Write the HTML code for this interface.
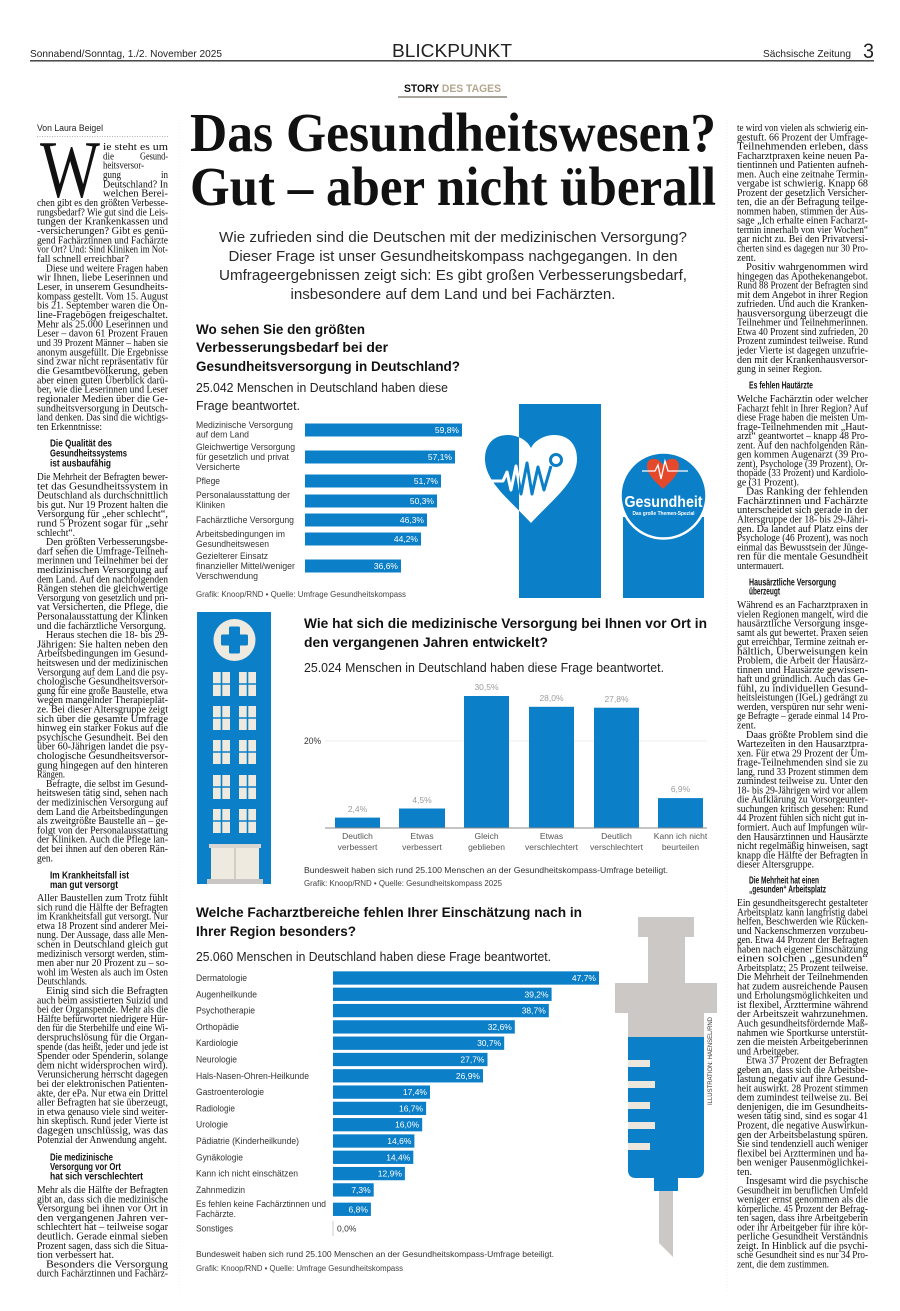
<!DOCTYPE html>
<html><head><meta charset="utf-8"><style>
html,body{margin:0;padding:0;background:#fff;}
svg{display:block;}
</style></head><body>
<svg xmlns="http://www.w3.org/2000/svg" width="900" height="1311" viewBox="0 0 900 1311">
<defs>
<clipPath id="cl"><rect x="470" y="420" width="49" height="120"/></clipPath>
<clipPath id="cr"><rect x="519" y="420" width="70" height="120"/></clipPath>
</defs>
<rect width="900" height="1311" fill="#fff"/>

<!-- HEADER -->
<g font-family="Liberation Sans, sans-serif" fill="#222">
<text x="30" y="57" font-size="10.5" textLength="192" lengthAdjust="spacingAndGlyphs">Sonnabend/Sonntag, 1./2. November 2025</text>
<text x="392" y="57" font-size="18" textLength="120" lengthAdjust="spacingAndGlyphs">BLICKPUNKT</text>
<text x="763" y="57" font-size="10.5" textLength="88" lengthAdjust="spacingAndGlyphs">Sächsische Zeitung</text>
<text x="863" y="58" font-size="21" textLength="11" lengthAdjust="spacingAndGlyphs">3</text>
</g>
<line x1="30" y1="60.8" x2="874" y2="60.8" stroke="#333" stroke-width="1.3"/>

<text x="404" y="92" font-family="Liberation Sans, sans-serif" font-size="11" font-weight="bold" textLength="97" lengthAdjust="spacingAndGlyphs"><tspan fill="#111">STORY </tspan><tspan fill="#b3a68e">DES TAGES</tspan></text>
<line x1="398" y1="97" x2="507" y2="97" stroke="#a9a49b" stroke-width="2"/>

<!-- HEADLINE -->
<g font-family="Liberation Serif, serif" font-weight="bold" fill="#111" font-size="55">
<text x="190" y="151" textLength="526" lengthAdjust="spacingAndGlyphs">Das Gesundheitswesen?</text>
<text x="190" y="205" textLength="526" lengthAdjust="spacingAndGlyphs">Gut – aber nicht überall</text>
</g>
<g font-family="Liberation Sans, sans-serif" fill="#2a2a2a" font-size="14.5" text-anchor="middle">
<text x="453" y="242" textLength="468" lengthAdjust="spacingAndGlyphs">Wie zufrieden sind die Deutschen mit der medizinischen Versorgung?</text>
<text x="453" y="261" textLength="449" lengthAdjust="spacingAndGlyphs">Dieser Frage ist unser Gesundheitskompass nachgegangen. In den</text>
<text x="453" y="280" textLength="468" lengthAdjust="spacingAndGlyphs">Umfrageergebnissen zeigt sich: Es gibt großen Verbesserungsbedarf,</text>
<text x="453" y="299" textLength="325" lengthAdjust="spacingAndGlyphs">insbesondere auf dem Land und bei Fachärzten.</text>
</g>

<!-- column separators -->
<line x1="179" y1="120" x2="179" y2="1292" stroke="#ececec" stroke-width="0.7" stroke-dasharray="1 2"/>
<line x1="727" y1="120" x2="727" y2="1292" stroke="#ececec" stroke-width="0.7" stroke-dasharray="1 2"/>

<!-- LEFT COLUMN -->
<text x="37" y="131" font-family="Liberation Sans, sans-serif" font-size="9" fill="#222" textLength="66" lengthAdjust="spacingAndGlyphs">Von Laura Beigel</text>
<line x1="37" y1="136.5" x2="168" y2="136.5" stroke="#999" stroke-width="0.8" stroke-dasharray="1 1.5"/>
<text x="40" y="197" font-family="Liberation Serif, serif" font-size="82" fill="#111" textLength="60" lengthAdjust="spacingAndGlyphs">W</text>

<g font-family="Liberation Sans, sans-serif" font-weight="bold" font-size="10" fill="#111">
<text x="50" y="446.5" textLength="62" lengthAdjust="spacingAndGlyphs">Die Qualität des</text>
<text x="50" y="456.5" textLength="77" lengthAdjust="spacingAndGlyphs">Gesundheitssystems</text>
<text x="50" y="466.5" textLength="61" lengthAdjust="spacingAndGlyphs">ist ausbaufähig</text>
<text x="50" y="878.5" textLength="79" lengthAdjust="spacingAndGlyphs">Im Krankheitsfall ist</text>
<text x="50" y="888" textLength="68" lengthAdjust="spacingAndGlyphs">man gut versorgt</text>
<text x="50" y="1160.5" textLength="63" lengthAdjust="spacingAndGlyphs">Die medizinische</text>
<text x="50" y="1170" textLength="71" lengthAdjust="spacingAndGlyphs">Versorgung vor Ort</text>
<text x="50" y="1179.5" textLength="93" lengthAdjust="spacingAndGlyphs">hat sich verschlechtert</text>
<text x="749" y="388.5" textLength="64" lengthAdjust="spacingAndGlyphs">Es fehlen Hautärzte</text>
<text x="749" y="585.5" textLength="87" lengthAdjust="spacingAndGlyphs">Hausärztliche Versorgung</text>
<text x="749" y="594.5" textLength="31" lengthAdjust="spacingAndGlyphs">überzeugt</text>
<text x="749" y="883.5" textLength="70" lengthAdjust="spacingAndGlyphs">Die Mehrheit hat einen</text>
<text x="749" y="892.5" textLength="77" lengthAdjust="spacingAndGlyphs">„gesunden“ Arbeitsplatz</text>
</g>

<g font-family="Liberation Serif, serif" font-size="10.4" fill="#111">
<text x="103" y="150" textLength="65" lengthAdjust="spacingAndGlyphs">ie steht es um</text>
<text x="103" y="159.3" textLength="11" lengthAdjust="spacingAndGlyphs">die</text>
<text x="168" y="159.3" text-anchor="end" textLength="28" lengthAdjust="spacingAndGlyphs">Gesund-</text>
<text x="103" y="168.7" textLength="41" lengthAdjust="spacingAndGlyphs">heitsversor-</text>
<text x="103" y="178" textLength="18" lengthAdjust="spacingAndGlyphs">gung</text>
<text x="168" y="178" text-anchor="end" textLength="7" lengthAdjust="spacingAndGlyphs">in</text>
<text x="103" y="187.3" textLength="65" lengthAdjust="spacingAndGlyphs">Deutschland? In</text>
<text x="103" y="196.7" textLength="65" lengthAdjust="spacingAndGlyphs">welchen Berei-</text>
<text x="37" y="206" textLength="131" lengthAdjust="spacingAndGlyphs">chen gibt es den größten Verbesse-</text>
<text x="37" y="215.3" textLength="131" lengthAdjust="spacingAndGlyphs">rungsbedarf? Wie gut sind die Leis-</text>
<text x="37" y="224.6" textLength="131" lengthAdjust="spacingAndGlyphs">tungen der Krankenkassen und</text>
<text x="37" y="234" textLength="131" lengthAdjust="spacingAndGlyphs">-versicherungen? Gibt es genü-</text>
<text x="37" y="243.3" textLength="131" lengthAdjust="spacingAndGlyphs">gend Fachärztinnen und Fachärzte</text>
<text x="37" y="252.6" textLength="131" lengthAdjust="spacingAndGlyphs">vor Ort? Und: Sind Kliniken im Not-</text>
<text x="37" y="262" textLength="92" lengthAdjust="spacingAndGlyphs">fall schnell erreichbar?</text>
<text x="46" y="271.3" textLength="122" lengthAdjust="spacingAndGlyphs">Diese und weitere Fragen haben</text>
<text x="37" y="280.6" textLength="131" lengthAdjust="spacingAndGlyphs">wir Ihnen, liebe Leserinnen und</text>
<text x="37" y="290" textLength="131" lengthAdjust="spacingAndGlyphs">Leser, in unserem Gesundheits-</text>
<text x="37" y="299.3" textLength="131" lengthAdjust="spacingAndGlyphs">kompass gestellt. Vom 15. August</text>
<text x="37" y="308.6" textLength="131" lengthAdjust="spacingAndGlyphs">bis 21. September waren die On-</text>
<text x="37" y="318" textLength="131" lengthAdjust="spacingAndGlyphs">line-Fragebögen    freigeschaltet.</text>
<text x="37" y="327.3" textLength="131" lengthAdjust="spacingAndGlyphs">Mehr als 25.000 Leserinnen und</text>
<text x="37" y="336.6" textLength="131" lengthAdjust="spacingAndGlyphs">Leser – davon 61 Prozent Frauen</text>
<text x="37" y="346" textLength="131" lengthAdjust="spacingAndGlyphs">und 39 Prozent Männer – haben sie</text>
<text x="37" y="355.3" textLength="131" lengthAdjust="spacingAndGlyphs">anonym ausgefüllt. Die Ergebnisse</text>
<text x="37" y="364.6" textLength="131" lengthAdjust="spacingAndGlyphs">sind zwar nicht repräsentativ für</text>
<text x="37" y="374" textLength="131" lengthAdjust="spacingAndGlyphs">die Gesamtbevölkerung,  geben</text>
<text x="37" y="383.3" textLength="131" lengthAdjust="spacingAndGlyphs">aber einen guten Überblick darü-</text>
<text x="37" y="392.6" textLength="131" lengthAdjust="spacingAndGlyphs">ber, wie die Leserinnen und Leser</text>
<text x="37" y="402" textLength="131" lengthAdjust="spacingAndGlyphs">regionaler Medien über die Ge-</text>
<text x="37" y="411.3" textLength="131" lengthAdjust="spacingAndGlyphs">sundheitsversorgung in Deutsch-</text>
<text x="37" y="420.6" textLength="131" lengthAdjust="spacingAndGlyphs">land denken. Das sind die wichtigs-</text>
<text x="37" y="430" textLength="65" lengthAdjust="spacingAndGlyphs">ten Erkenntnisse:</text>

<text x="37" y="480" textLength="131" lengthAdjust="spacingAndGlyphs">Die Mehrheit der Befragten bewer-</text>
<text x="37" y="489.3" textLength="131" lengthAdjust="spacingAndGlyphs">tet  das  Gesundheitssystem  in</text>
<text x="37" y="498.6" textLength="131" lengthAdjust="spacingAndGlyphs">Deutschland als durchschnittlich</text>
<text x="37" y="507.9" textLength="131" lengthAdjust="spacingAndGlyphs">bis gut. Nur 19 Prozent halten die</text>
<text x="37" y="517.2" textLength="131" lengthAdjust="spacingAndGlyphs">Versorgung für „eher schlecht“,</text>
<text x="37" y="526.5" textLength="131" lengthAdjust="spacingAndGlyphs">rund 5 Prozent sogar für „sehr</text>
<text x="37" y="535.8" textLength="38" lengthAdjust="spacingAndGlyphs">schlecht“.</text>
<text x="46" y="545.1" textLength="122" lengthAdjust="spacingAndGlyphs">Den größten Verbesserungsbe-</text>
<text x="37" y="554.4" textLength="131" lengthAdjust="spacingAndGlyphs">darf sehen die Umfrage-Teilneh-</text>
<text x="37" y="563.7" textLength="131" lengthAdjust="spacingAndGlyphs">merinnen und Teilnehmer bei der</text>
<text x="37" y="573" textLength="131" lengthAdjust="spacingAndGlyphs">medizinischen   Versorgung   auf</text>
<text x="37" y="582.3" textLength="131" lengthAdjust="spacingAndGlyphs">dem Land. Auf den nachfolgenden</text>
<text x="37" y="591.6" textLength="131" lengthAdjust="spacingAndGlyphs">Rängen stehen die gleichwertige</text>
<text x="37" y="600.9" textLength="131" lengthAdjust="spacingAndGlyphs">Versorgung von gesetzlich und pri-</text>
<text x="37" y="610.2" textLength="131" lengthAdjust="spacingAndGlyphs">vat Versicherten, die Pflege, die</text>
<text x="37" y="619.5" textLength="131" lengthAdjust="spacingAndGlyphs">Personalausstattung der Klinken</text>
<text x="37" y="628.8" textLength="129" lengthAdjust="spacingAndGlyphs">und die fachärztliche Versorgung.</text>
<text x="46" y="638.1" textLength="122" lengthAdjust="spacingAndGlyphs">Heraus stechen die 18- bis 29-</text>
<text x="37" y="647.4" textLength="131" lengthAdjust="spacingAndGlyphs">Jährigen: Sie halten neben den</text>
<text x="37" y="656.7" textLength="131" lengthAdjust="spacingAndGlyphs">Arbeitsbedingungen im Gesund-</text>
<text x="37" y="666" textLength="131" lengthAdjust="spacingAndGlyphs">heitswesen und der medizinischen</text>
<text x="37" y="675.3" textLength="131" lengthAdjust="spacingAndGlyphs">Versorgung auf dem Land die psy-</text>
<text x="37" y="684.6" textLength="131" lengthAdjust="spacingAndGlyphs">chologische   Gesundheitsversor-</text>
<text x="37" y="693.9" textLength="131" lengthAdjust="spacingAndGlyphs">gung für eine große Baustelle, etwa</text>
<text x="37" y="703.2" textLength="131" lengthAdjust="spacingAndGlyphs">wegen mangelnder Therapieplät-</text>
<text x="37" y="712.5" textLength="131" lengthAdjust="spacingAndGlyphs">ze. Bei dieser Altersgruppe zeigt</text>
<text x="37" y="721.8" textLength="131" lengthAdjust="spacingAndGlyphs">sich über die gesamte Umfrage</text>
<text x="37" y="731.1" textLength="131" lengthAdjust="spacingAndGlyphs">hinweg ein starker Fokus auf die</text>
<text x="37" y="740.4" textLength="131" lengthAdjust="spacingAndGlyphs">psychische Gesundheit. Bei den</text>
<text x="37" y="749.7" textLength="131" lengthAdjust="spacingAndGlyphs">über 60-Jährigen landet die psy-</text>
<text x="37" y="759" textLength="131" lengthAdjust="spacingAndGlyphs">chologische   Gesundheitsversor-</text>
<text x="37" y="768.3" textLength="131" lengthAdjust="spacingAndGlyphs">gung hingegen auf den hinteren</text>
<text x="37" y="777.6" textLength="28" lengthAdjust="spacingAndGlyphs">Rängen.</text>
<text x="46" y="786.9" textLength="122" lengthAdjust="spacingAndGlyphs">Befragte, die selbst im Gesund-</text>
<text x="37" y="796.2" textLength="131" lengthAdjust="spacingAndGlyphs">heitswesen tätig sind, sehen nach</text>
<text x="37" y="805.5" textLength="131" lengthAdjust="spacingAndGlyphs">der medizinischen Versorgung auf</text>
<text x="37" y="814.8" textLength="131" lengthAdjust="spacingAndGlyphs">dem Land die Arbeitsbedingungen</text>
<text x="37" y="824.1" textLength="131" lengthAdjust="spacingAndGlyphs">als zweitgrößte Baustelle an – ge-</text>
<text x="37" y="833.4" textLength="131" lengthAdjust="spacingAndGlyphs">folgt von der Personalausstattung</text>
<text x="37" y="842.7" textLength="131" lengthAdjust="spacingAndGlyphs">der Kliniken. Auch die Pflege lan-</text>
<text x="37" y="852" textLength="131" lengthAdjust="spacingAndGlyphs">det bei ihnen auf den oberen Rän-</text>
<text x="37" y="861.3" textLength="16" lengthAdjust="spacingAndGlyphs">gen.</text>

<text x="37" y="901" textLength="131" lengthAdjust="spacingAndGlyphs">Aller Baustellen zum Trotz fühlt</text>
<text x="37" y="910.3" textLength="131" lengthAdjust="spacingAndGlyphs">sich rund die Hälfte der Befragten</text>
<text x="37" y="919.6" textLength="131" lengthAdjust="spacingAndGlyphs">im Krankheitsfall gut versorgt. Nur</text>
<text x="37" y="928.9" textLength="131" lengthAdjust="spacingAndGlyphs">etwa 18 Prozent sind anderer Mei-</text>
<text x="37" y="938.2" textLength="131" lengthAdjust="spacingAndGlyphs">nung. Der Aussage, dass alle Men-</text>
<text x="37" y="947.5" textLength="131" lengthAdjust="spacingAndGlyphs">schen in Deutschland gleich gut</text>
<text x="37" y="956.8" textLength="131" lengthAdjust="spacingAndGlyphs">medizinisch versorgt werden, stim-</text>
<text x="37" y="966.1" textLength="131" lengthAdjust="spacingAndGlyphs">men aber nur 20 Prozent zu – so-</text>
<text x="37" y="975.4" textLength="131" lengthAdjust="spacingAndGlyphs">wohl im Westen als auch im Osten</text>
<text x="37" y="984.7" textLength="50" lengthAdjust="spacingAndGlyphs">Deutschlands.</text>
<text x="46" y="994" textLength="122" lengthAdjust="spacingAndGlyphs">Einig sind sich die Befragten</text>
<text x="37" y="1003.3" textLength="131" lengthAdjust="spacingAndGlyphs">auch beim assistierten Suizid und</text>
<text x="37" y="1012.6" textLength="131" lengthAdjust="spacingAndGlyphs">bei der Organspende. Mehr als die</text>
<text x="37" y="1021.9" textLength="131" lengthAdjust="spacingAndGlyphs">Hälfte befürwortet niedrigere Hür-</text>
<text x="37" y="1031.2" textLength="131" lengthAdjust="spacingAndGlyphs">den für die Sterbehilfe und eine Wi-</text>
<text x="37" y="1040.5" textLength="131" lengthAdjust="spacingAndGlyphs">derspruchslösung für die Organ-</text>
<text x="37" y="1049.8" textLength="131" lengthAdjust="spacingAndGlyphs">spende (das heißt, jeder und jede ist</text>
<text x="37" y="1059.1" textLength="131" lengthAdjust="spacingAndGlyphs">Spender oder Spenderin, solange</text>
<text x="37" y="1068.4" textLength="131" lengthAdjust="spacingAndGlyphs">dem  nicht  widersprochen  wird).</text>
<text x="37" y="1077.7" textLength="131" lengthAdjust="spacingAndGlyphs">Verunsicherung herrscht dagegen</text>
<text x="37" y="1087" textLength="131" lengthAdjust="spacingAndGlyphs">bei der elektronischen Patienten-</text>
<text x="37" y="1096.3" textLength="131" lengthAdjust="spacingAndGlyphs">akte, der ePa. Nur etwa ein Drittel</text>
<text x="37" y="1105.6" textLength="131" lengthAdjust="spacingAndGlyphs">aller Befragten hat sie überzeugt,</text>
<text x="37" y="1114.9" textLength="131" lengthAdjust="spacingAndGlyphs">in etwa genauso viele sind weiter-</text>
<text x="37" y="1124.2" textLength="131" lengthAdjust="spacingAndGlyphs">hin skeptisch. Rund jeder Vierte ist</text>
<text x="37" y="1133.5" textLength="131" lengthAdjust="spacingAndGlyphs">dagegen   unschlüssig,   was   das</text>
<text x="37" y="1142.8" textLength="130" lengthAdjust="spacingAndGlyphs">Potenzial der Anwendung angeht.</text>

<text x="37" y="1193" textLength="131" lengthAdjust="spacingAndGlyphs">Mehr als die Hälfte der Befragten</text>
<text x="37" y="1202.3" textLength="131" lengthAdjust="spacingAndGlyphs">gibt an, dass sich die medizinische</text>
<text x="37" y="1211.6" textLength="131" lengthAdjust="spacingAndGlyphs">Versorgung bei ihnen vor Ort in</text>
<text x="37" y="1220.9" textLength="131" lengthAdjust="spacingAndGlyphs">den   vergangenen   Jahren   ver-</text>
<text x="37" y="1230.2" textLength="131" lengthAdjust="spacingAndGlyphs">schlechtert hat – teilweise sogar</text>
<text x="37" y="1239.5" textLength="131" lengthAdjust="spacingAndGlyphs">deutlich. Gerade einmal sieben</text>
<text x="37" y="1248.8" textLength="131" lengthAdjust="spacingAndGlyphs">Prozent sagen, dass sich die Situa-</text>
<text x="37" y="1258.1" textLength="77" lengthAdjust="spacingAndGlyphs">tion verbessert hat.</text>
<text x="46" y="1267.4" textLength="122" lengthAdjust="spacingAndGlyphs">Besonders    die    Versorgung</text>
<text x="37" y="1276.7" textLength="131" lengthAdjust="spacingAndGlyphs">durch Fachärztinnen und Fachärz-</text>

<!-- RIGHT COLUMN -->
<text x="737" y="131" textLength="131" lengthAdjust="spacingAndGlyphs">te wird von vielen als schwierig ein-</text>
<text x="737" y="140.3" textLength="131" lengthAdjust="spacingAndGlyphs">gestuft. 66 Prozent der Umfrage-</text>
<text x="737" y="149.5" textLength="131" lengthAdjust="spacingAndGlyphs">Teilnehmenden    erleben,    dass</text>
<text x="737" y="158.8" textLength="131" lengthAdjust="spacingAndGlyphs">Facharztpraxen keine neuen Pa-</text>
<text x="737" y="168.1" textLength="131" lengthAdjust="spacingAndGlyphs">tientinnen und Patienten aufneh-</text>
<text x="737" y="177.4" textLength="131" lengthAdjust="spacingAndGlyphs">men. Auch eine zeitnahe Termin-</text>
<text x="737" y="186.6" textLength="131" lengthAdjust="spacingAndGlyphs">vergabe ist schwierig. Knapp 68</text>
<text x="737" y="195.9" textLength="131" lengthAdjust="spacingAndGlyphs">Prozent der gesetzlich Versicher-</text>
<text x="737" y="205.2" textLength="131" lengthAdjust="spacingAndGlyphs">ten, die an der Befragung teilge-</text>
<text x="737" y="214.4" textLength="131" lengthAdjust="spacingAndGlyphs">nommen haben, stimmen der Aus-</text>
<text x="737" y="223.7" textLength="131" lengthAdjust="spacingAndGlyphs">sage „Ich erhalte einen Facharzt-</text>
<text x="737" y="233" textLength="131" lengthAdjust="spacingAndGlyphs">termin innerhalb von vier Wochen“</text>
<text x="737" y="242.2" textLength="131" lengthAdjust="spacingAndGlyphs">gar nicht zu. Bei den Privatversi-</text>
<text x="737" y="251.5" textLength="131" lengthAdjust="spacingAndGlyphs">cherten sind es dagegen nur 30 Pro-</text>
<text x="737" y="260.8" textLength="19" lengthAdjust="spacingAndGlyphs">zent.</text>
<text x="746" y="270.1" textLength="122" lengthAdjust="spacingAndGlyphs">Positiv   wahrgenommen   wird</text>
<text x="737" y="279.3" textLength="131" lengthAdjust="spacingAndGlyphs">hingegen das Apothekenangebot.</text>
<text x="737" y="288.6" textLength="131" lengthAdjust="spacingAndGlyphs">Rund 88 Prozent der Befragten sind</text>
<text x="737" y="297.9" textLength="131" lengthAdjust="spacingAndGlyphs">mit dem Angebot in ihrer Region</text>
<text x="737" y="307.1" textLength="131" lengthAdjust="spacingAndGlyphs">zufrieden. Und auch die Kranken-</text>
<text x="737" y="316.4" textLength="131" lengthAdjust="spacingAndGlyphs">hausversorgung   überzeugt   die</text>
<text x="737" y="325.7" textLength="131" lengthAdjust="spacingAndGlyphs">Teilnehmer und Teilnehmerinnen.</text>
<text x="737" y="334.9" textLength="131" lengthAdjust="spacingAndGlyphs">Etwa 40 Prozent sind zufrieden, 20</text>
<text x="737" y="344.2" textLength="131" lengthAdjust="spacingAndGlyphs">Prozent zumindest teilweise. Rund</text>
<text x="737" y="353.5" textLength="131" lengthAdjust="spacingAndGlyphs">jeder Vierte ist dagegen unzufrie-</text>
<text x="737" y="362.8" textLength="131" lengthAdjust="spacingAndGlyphs">den mit der Krankenhausversor-</text>
<text x="737" y="372" textLength="85" lengthAdjust="spacingAndGlyphs">gung in seiner Region.</text>

<text x="737" y="402" textLength="131" lengthAdjust="spacingAndGlyphs">Welche Fachärztin oder welcher</text>
<text x="737" y="411.3" textLength="131" lengthAdjust="spacingAndGlyphs">Facharzt fehlt in Ihrer Region? Auf</text>
<text x="737" y="420.5" textLength="131" lengthAdjust="spacingAndGlyphs">diese Frage haben die meisten Um-</text>
<text x="737" y="429.8" textLength="131" lengthAdjust="spacingAndGlyphs">frage-Teilnehmenden mit „Haut-</text>
<text x="737" y="439.1" textLength="131" lengthAdjust="spacingAndGlyphs">arzt“ geantwortet – knapp 48 Pro-</text>
<text x="737" y="448.4" textLength="131" lengthAdjust="spacingAndGlyphs">zent. Auf den nachfolgenden Rän-</text>
<text x="737" y="457.6" textLength="131" lengthAdjust="spacingAndGlyphs">gen kommen Augenarzt (39 Pro-</text>
<text x="737" y="466.9" textLength="131" lengthAdjust="spacingAndGlyphs">zent), Psychologe (39 Prozent), Or-</text>
<text x="737" y="476.2" textLength="131" lengthAdjust="spacingAndGlyphs">thopäde (33 Prozent) und Kardiolo-</text>
<text x="737" y="485.4" textLength="62" lengthAdjust="spacingAndGlyphs">ge (31 Prozent).</text>
<text x="746" y="494.7" textLength="122" lengthAdjust="spacingAndGlyphs">Das  Ranking  der  fehlenden</text>
<text x="737" y="504" textLength="131" lengthAdjust="spacingAndGlyphs">Fachärztinnen    und    Fachärzte</text>
<text x="737" y="513.2" textLength="131" lengthAdjust="spacingAndGlyphs">unterscheidet sich gerade in der</text>
<text x="737" y="522.5" textLength="131" lengthAdjust="spacingAndGlyphs">Altersgruppe der 18- bis 29-Jähri-</text>
<text x="737" y="531.8" textLength="131" lengthAdjust="spacingAndGlyphs">gen. Da landet auf Platz eins der</text>
<text x="737" y="541.1" textLength="131" lengthAdjust="spacingAndGlyphs">Psychologe (46 Prozent), was noch</text>
<text x="737" y="550.3" textLength="131" lengthAdjust="spacingAndGlyphs">einmal das Bewusstsein der Jünge-</text>
<text x="737" y="559.6" textLength="131" lengthAdjust="spacingAndGlyphs">ren für die mentale Gesundheit</text>
<text x="737" y="568.9" textLength="47" lengthAdjust="spacingAndGlyphs">untermauert.</text>

<text x="737" y="608" textLength="131" lengthAdjust="spacingAndGlyphs">Während es an Facharztpraxen in</text>
<text x="737" y="617.3" textLength="131" lengthAdjust="spacingAndGlyphs">vielen Regionen mangelt, wird die</text>
<text x="737" y="626.5" textLength="131" lengthAdjust="spacingAndGlyphs">hausärztliche  Versorgung  insge-</text>
<text x="737" y="635.8" textLength="131" lengthAdjust="spacingAndGlyphs">samt als gut bewertet. Praxen seien</text>
<text x="737" y="645.1" textLength="131" lengthAdjust="spacingAndGlyphs">gut erreichbar, Termine zeitnah er-</text>
<text x="737" y="654.4" textLength="131" lengthAdjust="spacingAndGlyphs">hältlich,   Überweisungen   kein</text>
<text x="737" y="663.6" textLength="131" lengthAdjust="spacingAndGlyphs">Problem, die Arbeit der Hausärz-</text>
<text x="737" y="672.9" textLength="131" lengthAdjust="spacingAndGlyphs">tinnen und Hausärzte gewissen-</text>
<text x="737" y="682.2" textLength="131" lengthAdjust="spacingAndGlyphs">haft und gründlich. Auch das Ge-</text>
<text x="737" y="691.4" textLength="131" lengthAdjust="spacingAndGlyphs">fühl,  zu  individuellen  Gesund-</text>
<text x="737" y="700.7" textLength="131" lengthAdjust="spacingAndGlyphs">heitsleistungen (IGeL) gedrängt zu</text>
<text x="737" y="710" textLength="131" lengthAdjust="spacingAndGlyphs">werden, verspüren nur sehr weni-</text>
<text x="737" y="719.2" textLength="131" lengthAdjust="spacingAndGlyphs">ge Befragte – gerade einmal 14 Pro-</text>
<text x="737" y="728.5" textLength="19" lengthAdjust="spacingAndGlyphs">zent.</text>
<text x="746" y="737.8" textLength="122" lengthAdjust="spacingAndGlyphs">Daas größte Problem sind die</text>
<text x="737" y="747.1" textLength="131" lengthAdjust="spacingAndGlyphs">Wartezeiten in den Hausarztpra-</text>
<text x="737" y="756.3" textLength="131" lengthAdjust="spacingAndGlyphs">xen. Für etwa 29 Prozent der Um-</text>
<text x="737" y="765.6" textLength="131" lengthAdjust="spacingAndGlyphs">frage-Teilnehmenden sind sie zu</text>
<text x="737" y="774.9" textLength="131" lengthAdjust="spacingAndGlyphs">lang, rund 33 Prozent stimmen dem</text>
<text x="737" y="784.1" textLength="131" lengthAdjust="spacingAndGlyphs">zumindest teilweise zu. Unter den</text>
<text x="737" y="793.4" textLength="131" lengthAdjust="spacingAndGlyphs">18- bis 29-Jährigen wird vor allem</text>
<text x="737" y="802.7" textLength="131" lengthAdjust="spacingAndGlyphs">die Aufklärung zu Vorsorgeunter-</text>
<text x="737" y="811.9" textLength="131" lengthAdjust="spacingAndGlyphs">suchungen kritisch gesehen: Rund</text>
<text x="737" y="821.2" textLength="131" lengthAdjust="spacingAndGlyphs">44 Prozent fühlen sich nicht gut in-</text>
<text x="737" y="830.5" textLength="131" lengthAdjust="spacingAndGlyphs">formiert. Auch auf Impfungen wür-</text>
<text x="737" y="839.8" textLength="131" lengthAdjust="spacingAndGlyphs">den Hausärztinnen und Hausärzte</text>
<text x="737" y="849" textLength="131" lengthAdjust="spacingAndGlyphs">nicht regelmäßig hinweisen, sagt</text>
<text x="737" y="858.3" textLength="131" lengthAdjust="spacingAndGlyphs">knapp die Hälfte der Befragten in</text>
<text x="737" y="867.6" textLength="77" lengthAdjust="spacingAndGlyphs">dieser Altersgruppe.</text>

<text x="737" y="906" textLength="131" lengthAdjust="spacingAndGlyphs">Ein gesundheitsgerecht gestalteter</text>
<text x="737" y="915.3" textLength="131" lengthAdjust="spacingAndGlyphs">Arbeitsplatz kann langfristig dabei</text>
<text x="737" y="924.5" textLength="131" lengthAdjust="spacingAndGlyphs">helfen, Beschwerden wie Rücken-</text>
<text x="737" y="933.8" textLength="131" lengthAdjust="spacingAndGlyphs">und Nackenschmerzen vorzubeu-</text>
<text x="737" y="943.1" textLength="131" lengthAdjust="spacingAndGlyphs">gen. Etwa 44 Prozent der Befragten</text>
<text x="737" y="952.4" textLength="131" lengthAdjust="spacingAndGlyphs">haben nach eigener Einschätzung</text>
<text x="737" y="961.6" textLength="131" lengthAdjust="spacingAndGlyphs">einen      solchen      „gesunden“</text>
<text x="737" y="970.9" textLength="131" lengthAdjust="spacingAndGlyphs">Arbeitsplatz; 25 Prozent teilweise.</text>
<text x="737" y="980.2" textLength="131" lengthAdjust="spacingAndGlyphs">Die Mehrheit der Teilnehmenden</text>
<text x="737" y="989.4" textLength="131" lengthAdjust="spacingAndGlyphs">hat zudem ausreichende Pausen</text>
<text x="737" y="998.7" textLength="131" lengthAdjust="spacingAndGlyphs">und Erholungsmöglichkeiten und</text>
<text x="737" y="1008" textLength="131" lengthAdjust="spacingAndGlyphs">ist flexibel, Arzttermine während</text>
<text x="737" y="1017.2" textLength="131" lengthAdjust="spacingAndGlyphs">der  Arbeitszeit  wahrzunehmen.</text>
<text x="737" y="1026.5" textLength="131" lengthAdjust="spacingAndGlyphs">Auch gesundheitsfördernde Maß-</text>
<text x="737" y="1035.8" textLength="131" lengthAdjust="spacingAndGlyphs">nahmen wie Sportkurse unterstüt-</text>
<text x="737" y="1045.1" textLength="131" lengthAdjust="spacingAndGlyphs">zen die meisten Arbeitgeberinnen</text>
<text x="737" y="1054.3" textLength="62" lengthAdjust="spacingAndGlyphs">und Arbeitgeber.</text>
<text x="746" y="1063.6" textLength="122" lengthAdjust="spacingAndGlyphs">Etwa 37 Prozent der Befragten</text>
<text x="737" y="1072.9" textLength="131" lengthAdjust="spacingAndGlyphs">geben an, dass sich die Arbeitsbe-</text>
<text x="737" y="1082.1" textLength="131" lengthAdjust="spacingAndGlyphs">lastung negativ auf ihre Gesund-</text>
<text x="737" y="1091.4" textLength="131" lengthAdjust="spacingAndGlyphs">heit auswirkt. 28 Prozent stimmen</text>
<text x="737" y="1100.7" textLength="131" lengthAdjust="spacingAndGlyphs">dem zumindest teilweise zu. Bei</text>
<text x="737" y="1109.9" textLength="131" lengthAdjust="spacingAndGlyphs">denjenigen, die im Gesundheits-</text>
<text x="737" y="1119.2" textLength="131" lengthAdjust="spacingAndGlyphs">wesen tätig sind, sind es sogar 41</text>
<text x="737" y="1128.5" textLength="131" lengthAdjust="spacingAndGlyphs">Prozent, die negative Auswirkun-</text>
<text x="737" y="1137.8" textLength="131" lengthAdjust="spacingAndGlyphs">gen der Arbeitsbelastung spüren.</text>
<text x="737" y="1147" textLength="131" lengthAdjust="spacingAndGlyphs">Sie sind tendenziell auch weniger</text>
<text x="737" y="1156.3" textLength="131" lengthAdjust="spacingAndGlyphs">flexibel bei Arztterminen und ha-</text>
<text x="737" y="1165.6" textLength="131" lengthAdjust="spacingAndGlyphs">ben  weniger  Pausenmöglichkei-</text>
<text x="737" y="1174.8" textLength="15" lengthAdjust="spacingAndGlyphs">ten.</text>
<text x="746" y="1184.1" textLength="122" lengthAdjust="spacingAndGlyphs">Insgesamt wird die psychische</text>
<text x="737" y="1193.4" textLength="131" lengthAdjust="spacingAndGlyphs">Gesundheit im beruflichen Umfeld</text>
<text x="737" y="1202.6" textLength="131" lengthAdjust="spacingAndGlyphs">weniger ernst genommen als die</text>
<text x="737" y="1211.9" textLength="131" lengthAdjust="spacingAndGlyphs">körperliche. 45 Prozent der Befrag-</text>
<text x="737" y="1221.2" textLength="131" lengthAdjust="spacingAndGlyphs">ten sagen, dass ihre Arbeitgeberin</text>
<text x="737" y="1230.4" textLength="131" lengthAdjust="spacingAndGlyphs">oder ihr Arbeitgeber für ihre kör-</text>
<text x="737" y="1239.7" textLength="131" lengthAdjust="spacingAndGlyphs">perliche  Gesundheit  Verständnis</text>
<text x="737" y="1249" textLength="131" lengthAdjust="spacingAndGlyphs">zeigt. In Hinblick auf die psychi-</text>
<text x="737" y="1258.2" textLength="131" lengthAdjust="spacingAndGlyphs">sche Gesundheit sind es nur 34 Pro-</text>
<text x="737" y="1267.5" textLength="92" lengthAdjust="spacingAndGlyphs">zent, die dem zustimmen.</text>
</g>

<!-- ============ CHART 1 ============ -->
<g font-family="Liberation Sans, sans-serif">
<g font-weight="bold" font-size="14" fill="#111">
<text x="196" y="334" textLength="169" lengthAdjust="spacingAndGlyphs">Wo sehen Sie den größten</text>
<text x="196" y="352" textLength="192" lengthAdjust="spacingAndGlyphs">Verbesserungsbedarf bei der</text>
<text x="196" y="371" textLength="264" lengthAdjust="spacingAndGlyphs">Gesundheitsversorgung in Deutschland?</text>
</g>
<g font-size="12.5" fill="#222">
<text x="196" y="392" textLength="252" lengthAdjust="spacingAndGlyphs">25.042 Menschen in Deutschland haben diese</text>
<text x="196" y="410" textLength="104" lengthAdjust="spacingAndGlyphs">Frage beantwortet.</text>
</g>
<g font-size="8.8" fill="#333">
<text x="196" y="428" textLength="97" lengthAdjust="spacingAndGlyphs">Medizinische Versorgung</text>
<text x="196" y="437.5" textLength="53" lengthAdjust="spacingAndGlyphs">auf dem Land</text>
<text x="196" y="450" textLength="99" lengthAdjust="spacingAndGlyphs">Gleichwertige Versorgung</text>
<text x="196" y="460" textLength="93" lengthAdjust="spacingAndGlyphs">für gesetzlich und privat</text>
<text x="196" y="470" textLength="44" lengthAdjust="spacingAndGlyphs">Versicherte</text>
<text x="196" y="484" textLength="24" lengthAdjust="spacingAndGlyphs">Pflege</text>
<text x="196" y="498" textLength="94" lengthAdjust="spacingAndGlyphs">Personalausstattung der</text>
<text x="196" y="508" textLength="29" lengthAdjust="spacingAndGlyphs">Kliniken</text>
<text x="196" y="523" textLength="98" lengthAdjust="spacingAndGlyphs">Fachärztliche Versorgung</text>
<text x="196" y="537" textLength="89" lengthAdjust="spacingAndGlyphs">Arbeitsbedingungen im</text>
<text x="196" y="547" textLength="73" lengthAdjust="spacingAndGlyphs">Gesundheitswesen</text>
<text x="196" y="559" textLength="72" lengthAdjust="spacingAndGlyphs">Gezielterer Einsatz</text>
<text x="196" y="569" textLength="99" lengthAdjust="spacingAndGlyphs">finanzieller Mittel/weniger</text>
<text x="196" y="579" textLength="62" lengthAdjust="spacingAndGlyphs">Verschwendung</text>
</g>
<g fill="#0b7fc7">
<rect x="305" y="423.5" width="157" height="13"/>
<rect x="305" y="450.5" width="150" height="13"/>
<rect x="305" y="474.5" width="136" height="13"/>
<rect x="305" y="494.5" width="132" height="13"/>
<rect x="305" y="513.5" width="122" height="13"/>
<rect x="305" y="532.5" width="116" height="13"/>
<rect x="305" y="559.5" width="96" height="13"/>
</g>
<g font-size="8.5" fill="#fff" text-anchor="end">
<text x="459" y="433">59,8%</text>
<text x="452" y="460">57,1%</text>
<text x="438" y="484">51,7%</text>
<text x="434" y="504">50,3%</text>
<text x="424" y="523">46,3%</text>
<text x="418" y="542">44,2%</text>
<text x="398" y="569">36,6%</text>
</g>
<text x="196" y="597" font-size="8" fill="#444" textLength="210" lengthAdjust="spacingAndGlyphs">Grafik: Knoop/RND • Quelle: Umfrage Gesundheitskompass</text>
</g>

<!-- heart illustration -->
<rect x="519" y="404" width="82" height="194" fill="#0b7fc7"/>
<path d="M531,448 C522,430 485,428 485,459 C485,482 510,500 531,523 C552,500 577,482 577,459 C577,428 540,430 531,448 Z" fill="#0b7fc7" clip-path="url(#cl)"/>
<path d="M531,448 C522,430 485,428 485,459 C485,482 510,500 531,523 C552,500 577,482 577,459 C577,428 540,430 531,448 Z" fill="#fff" clip-path="url(#cr)"/>
<polyline points="487,481 503,481 507,472 511,490 516,466 521,494 527,463 532,494 538,467 544,490 551,466" fill="none" stroke="#fff" stroke-width="3" stroke-linejoin="round" clip-path="url(#cl)"/>
<polyline points="487,481 503,481 507,472 511,490 516,466 521,494 527,463 532,494 538,467 544,490 551,466" fill="none" stroke="#0b7fc7" stroke-width="3" stroke-linejoin="round" clip-path="url(#cr)"/>
<circle cx="556" cy="460" r="5.5" fill="none" stroke="#0b7fc7" stroke-width="3"/>

<!-- Gesundheit badge -->
<rect x="623" y="517" width="81" height="81" fill="#0b7fc7"/>
<circle cx="663.5" cy="495.5" r="43" fill="#0b7fc7" stroke="#fff" stroke-width="2.5"/>
<path d="M663,465 C659,457 647,456 647,466 C647,475 656,482 663,489 C670,482 679,475 679,466 C679,456 667,457 663,465 Z" fill="#e4492b"/>
<polyline points="642,471 655,471 658,465 661,479 665,461 668,471 688,471" fill="none" stroke="#fff" stroke-width="1.3"/>
<text x="663.5" y="507" text-anchor="middle" font-family="Liberation Sans, sans-serif" font-weight="bold" font-size="16" fill="#fff" textLength="78" lengthAdjust="spacingAndGlyphs">Gesundheit</text>
<text x="663.5" y="515" text-anchor="middle" font-family="Liberation Sans, sans-serif" font-weight="bold" font-size="5.5" fill="#fff" textLength="62" lengthAdjust="spacingAndGlyphs">Das große Themen-Spezial</text>

<!-- hospital -->
<rect x="197" y="612" width="74" height="272" fill="#0b7fc7"/>
<circle cx="234.5" cy="640" r="21" fill="#efeae0"/>
<rect x="229" y="626.5" width="11" height="27" rx="1.5" fill="#0b7fc7"/>
<rect x="221" y="634.5" width="27" height="11" rx="1.5" fill="#0b7fc7"/>
<g fill="#efeae0">
<rect x="213" y="672" width="17" height="24"/><rect x="239" y="672" width="17" height="24"/>
<rect x="213" y="706" width="17" height="24"/><rect x="239" y="706" width="17" height="24"/>
<rect x="213" y="740" width="17" height="24"/><rect x="239" y="740" width="17" height="24"/>
<rect x="213" y="775" width="17" height="24"/><rect x="239" y="775" width="17" height="24"/>
<rect x="213" y="809" width="17" height="24"/><rect x="239" y="809" width="17" height="24"/>
</g>
<g stroke="#0b7fc7" stroke-width="1.6">
<line x1="221.5" y1="672" x2="221.5" y2="696"/><line x1="247.5" y1="672" x2="247.5" y2="696"/>
<line x1="221.5" y1="706" x2="221.5" y2="730"/><line x1="247.5" y1="706" x2="247.5" y2="730"/>
<line x1="221.5" y1="740" x2="221.5" y2="764"/><line x1="247.5" y1="740" x2="247.5" y2="764"/>
<line x1="221.5" y1="775" x2="221.5" y2="799"/><line x1="247.5" y1="775" x2="247.5" y2="799"/>
<line x1="221.5" y1="809" x2="221.5" y2="833"/><line x1="247.5" y1="809" x2="247.5" y2="833"/>
<line x1="213" y1="684" x2="230" y2="684"/><line x1="239" y1="684" x2="256" y2="684"/>
<line x1="213" y1="718" x2="230" y2="718"/><line x1="239" y1="718" x2="256" y2="718"/>
<line x1="213" y1="752" x2="230" y2="752"/><line x1="239" y1="752" x2="256" y2="752"/>
<line x1="213" y1="787" x2="230" y2="787"/><line x1="239" y1="787" x2="256" y2="787"/>
<line x1="213" y1="821" x2="230" y2="821"/><line x1="239" y1="821" x2="256" y2="821"/>
</g>
<rect x="209" y="844" width="52" height="4" fill="#d9d6d2"/>
<rect x="211" y="848" width="48" height="32" fill="#efeae0"/>
<line x1="235" y1="848" x2="235" y2="880" stroke="#c9c5bf" stroke-width="1.5"/>
<rect x="207" y="879" width="56" height="5" fill="#c9c6c3"/>

<!-- ============ CHART 2 ============ -->
<g font-family="Liberation Sans, sans-serif">
<g font-weight="bold" font-size="14" fill="#111">
<text x="304" y="628" textLength="403" lengthAdjust="spacingAndGlyphs">Wie hat sich die medizinische Versorgung bei Ihnen vor Ort in</text>
<text x="304" y="647" textLength="244" lengthAdjust="spacingAndGlyphs">den vergangenen Jahren entwickelt?</text>
</g>
<text x="304" y="672" font-size="12.5" fill="#222" textLength="360" lengthAdjust="spacingAndGlyphs">25.024 Menschen in Deutschland haben diese Frage beantwortet.</text>
<line x1="325" y1="741" x2="707" y2="741" stroke="#e6e6e6" stroke-width="0.8"/>
<text x="304" y="744" font-size="9" fill="#333" textLength="17" lengthAdjust="spacingAndGlyphs">20%</text>
<g fill="#0b7fc7">
<rect x="335" y="817.6" width="45" height="10.4"/>
<rect x="399" y="808.5" width="46" height="19.5"/>
<rect x="464" y="696" width="45" height="132"/>
<rect x="529" y="706.8" width="45" height="121.2"/>
<rect x="594" y="707.7" width="45" height="120.3"/>
<rect x="658" y="798.1" width="45" height="29.9"/>
</g>
<line x1="325" y1="828" x2="707" y2="828" stroke="#888" stroke-width="1"/>
<g font-size="8.5" fill="#9c9c9c" text-anchor="middle">
<text x="357.5" y="812">2,4%</text>
<text x="422" y="803">4,5%</text>
<text x="486.5" y="690">30,5%</text>
<text x="551.5" y="701">28,0%</text>
<text x="616.5" y="702">27,8%</text>
<text x="680.5" y="792">6,9%</text>
</g>
<g font-size="8.5" fill="#555" text-anchor="middle">
<text x="357.5" y="839">Deutlich</text><text x="357.5" y="850">verbessert</text>
<text x="422" y="839">Etwas</text><text x="422" y="850">verbessert</text>
<text x="486.5" y="839">Gleich</text><text x="486.5" y="850">geblieben</text>
<text x="551.5" y="839">Etwas</text><text x="551.5" y="850">verschlechtert</text>
<text x="616.5" y="839">Deutlich</text><text x="616.5" y="850">verschlechtert</text>
<text x="680.5" y="839">Kann ich nicht</text><text x="680.5" y="850">beurteilen</text>
</g>
<text x="304" y="873" font-size="8.5" fill="#333" textLength="364" lengthAdjust="spacingAndGlyphs">Bundesweit haben sich rund 25.100 Menschen an der Gesundheitskompass-Umfrage beteiligt.</text>
<text x="304" y="886" font-size="8" fill="#444" textLength="198" lengthAdjust="spacingAndGlyphs">Grafik: Knoop/RND • Quelle: Gesundheitskompass 2025</text>
</g>

<!-- ============ CHART 3 ============ -->
<g fill="#cbc8c5">
<rect x="638" y="917" width="56" height="20"/>
<rect x="648" y="936" width="37" height="48"/>
<rect x="615" y="983" width="102" height="30"/>
<rect x="628" y="1012" width="76" height="26"/>
<polygon points="659,1190 673,1190 673,1257 659,1243"/>
</g>
<path d="M628,1037 H704 V1170 Q704,1178 696,1178 H636 Q628,1178 628,1170 Z" fill="#0b7fc7"/>
<rect x="654" y="1177" width="24" height="14" fill="#0b7fc7"/>
<g fill="#ece7dd">
<rect x="628" y="1060" width="22" height="7"/>
<rect x="628" y="1081" width="27" height="7"/>
<rect x="628" y="1102" width="22" height="7"/>
<rect x="628" y="1122" width="27" height="7"/>
<rect x="628" y="1143" width="22" height="7"/>
</g>
<text transform="translate(712,1105) rotate(-90)" font-family="Liberation Sans, sans-serif" font-size="6.5" fill="#333" textLength="88" lengthAdjust="spacingAndGlyphs">ILLUSTRATION: HAENSEL/RND</text>

<g font-family="Liberation Sans, sans-serif">
<g font-weight="bold" font-size="14" fill="#111">
<text x="196" y="917" textLength="386" lengthAdjust="spacingAndGlyphs">Welche Facharztbereiche fehlen Ihrer Einschätzung nach in</text>
<text x="196" y="936" textLength="160" lengthAdjust="spacingAndGlyphs">Ihrer Region besonders?</text>
</g>
<text x="196" y="961" font-size="12.5" fill="#222" textLength="355" lengthAdjust="spacingAndGlyphs">25.060 Menschen in Deutschland haben diese Frage beantwortet.</text>
<g font-size="8.8" fill="#333">
<text x="196" y="981" textLength="51" lengthAdjust="spacingAndGlyphs">Dermatologie</text>
<text x="196" y="997.3" textLength="61" lengthAdjust="spacingAndGlyphs">Augenheilkunde</text>
<text x="196" y="1013.6" textLength="59" lengthAdjust="spacingAndGlyphs">Psychotherapie</text>
<text x="196" y="1029.9" textLength="43" lengthAdjust="spacingAndGlyphs">Orthopädie</text>
<text x="196" y="1046.2" textLength="42" lengthAdjust="spacingAndGlyphs">Kardiologie</text>
<text x="196" y="1062.5" textLength="41" lengthAdjust="spacingAndGlyphs">Neurologie</text>
<text x="196" y="1078.8" textLength="113" lengthAdjust="spacingAndGlyphs">Hals-Nasen-Ohren-Heilkunde</text>
<text x="196" y="1095.1" textLength="68" lengthAdjust="spacingAndGlyphs">Gastroenterologie</text>
<text x="196" y="1111.4" textLength="39" lengthAdjust="spacingAndGlyphs">Radiologie</text>
<text x="196" y="1127.7" textLength="32" lengthAdjust="spacingAndGlyphs">Urologie</text>
<text x="196" y="1144" textLength="103" lengthAdjust="spacingAndGlyphs">Pädiatrie (Kinderheilkunde)</text>
<text x="196" y="1160.3" textLength="47" lengthAdjust="spacingAndGlyphs">Gynäkologie</text>
<text x="196" y="1176.6" textLength="102" lengthAdjust="spacingAndGlyphs">Kann ich nicht einschätzen</text>
<text x="196" y="1192.9" textLength="49" lengthAdjust="spacingAndGlyphs">Zahnmedizin</text>
<text x="196" y="1207" textLength="130" lengthAdjust="spacingAndGlyphs">Es fehlen keine Fachärztinnen und</text>
<text x="196" y="1217" textLength="40" lengthAdjust="spacingAndGlyphs">Fachärzte.</text>
<text x="196" y="1231.7" textLength="37" lengthAdjust="spacingAndGlyphs">Sonstiges</text>
</g>
<g fill="#0b7fc7">
<rect x="333" y="971.35" width="266" height="13.3"/>
<rect x="333" y="987.65" width="218.6" height="13.3"/>
<rect x="333" y="1003.95" width="215.8" height="13.3"/>
<rect x="333" y="1020.25" width="181.8" height="13.3"/>
<rect x="333" y="1036.55" width="171.2" height="13.3"/>
<rect x="333" y="1052.85" width="154.5" height="13.3"/>
<rect x="333" y="1069.15" width="150" height="13.3"/>
<rect x="333" y="1085.45" width="97" height="13.3"/>
<rect x="333" y="1101.75" width="93.1" height="13.3"/>
<rect x="333" y="1118.05" width="89.2" height="13.3"/>
<rect x="333" y="1134.35" width="81.4" height="13.3"/>
<rect x="333" y="1150.65" width="80.3" height="13.3"/>
<rect x="333" y="1166.95" width="71.9" height="13.3"/>
<rect x="333" y="1183.25" width="40.7" height="13.3"/>
<rect x="333" y="1202.65" width="37.9" height="13.3"/>
</g>
<g font-size="8.5" fill="#fff" text-anchor="end">
<text x="596" y="981">47,7%</text>
<text x="548.6" y="997.3">39,2%</text>
<text x="545.8" y="1013.6">38,7%</text>
<text x="511.8" y="1029.9">32,6%</text>
<text x="501.2" y="1046.2">30,7%</text>
<text x="484.5" y="1062.5">27,7%</text>
<text x="480" y="1078.8">26,9%</text>
<text x="427" y="1095.1">17,4%</text>
<text x="423.1" y="1111.4">16,7%</text>
<text x="419.2" y="1127.7">16,0%</text>
<text x="411.4" y="1144">14,6%</text>
<text x="410.3" y="1160.3">14,4%</text>
<text x="401.9" y="1176.6">12,9%</text>
<text x="370.7" y="1192.9">7,3%</text>
<text x="367.9" y="1212.3">6,8%</text>
</g>
<line x1="333" y1="1221" x2="333" y2="1236" stroke="#ccc" stroke-width="1"/>
<text x="337" y="1231.7" font-size="8.5" fill="#333">0,0%</text>
<text x="196" y="1257" font-size="8.5" fill="#333" textLength="358" lengthAdjust="spacingAndGlyphs">Bundesweit haben sich rund 25.100 Menschen an der Gesundheitskompass-Umfrage beteiligt.</text>
<text x="196" y="1271" font-size="8" fill="#444" textLength="207" lengthAdjust="spacingAndGlyphs">Grafik: Knoop/RND • Quelle: Umfrage Gesundheitskompass</text>
</g>
</svg>
</body></html>
